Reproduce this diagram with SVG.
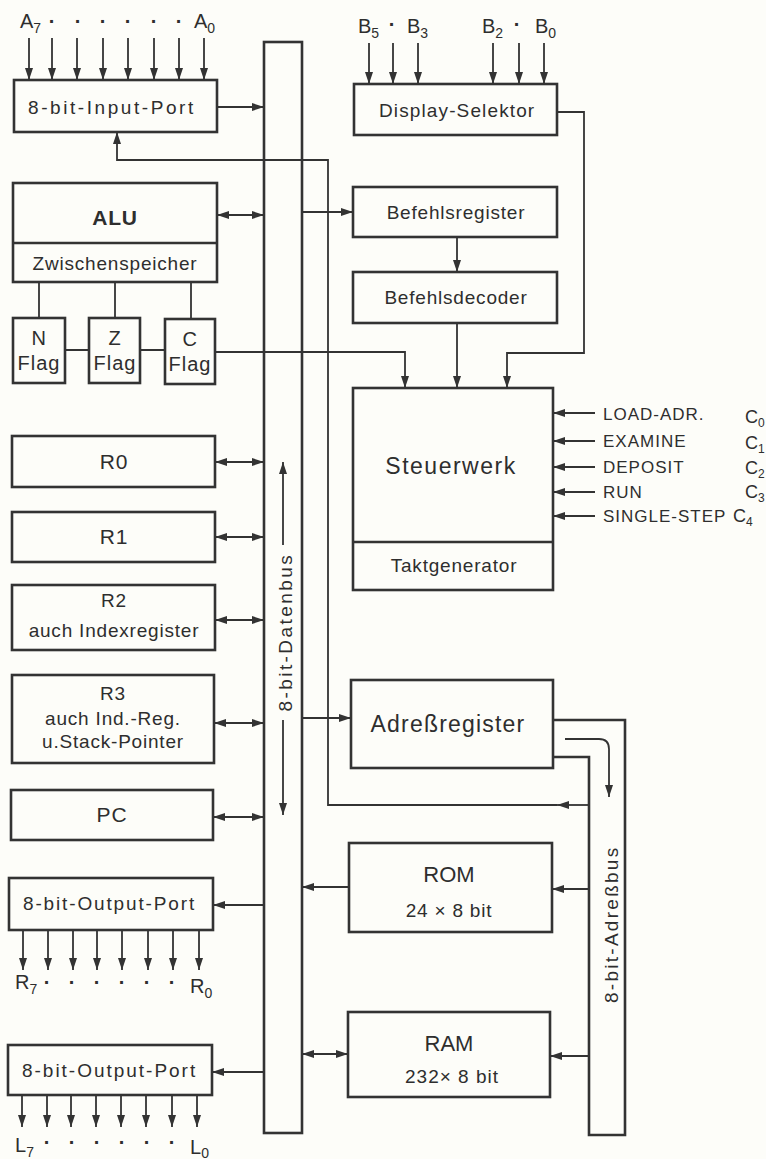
<svg xmlns="http://www.w3.org/2000/svg" width="766" height="1159" viewBox="0 0 766 1159">
<defs>
<marker id="ah" viewBox="0 0 12 8" refX="12" refY="4" markerWidth="12" markerHeight="8" markerUnits="userSpaceOnUse" orient="auto-start-reverse">
<path d="M0,0 L12,4 L0,8 z" fill="#333"/>
</marker>
<style>
.box{fill:none;stroke:#333;stroke-width:2.6}
.ln{fill:none;stroke:#333;stroke-width:1.8}
.arr{marker-end:url(#ah)}
.dbl{marker-start:url(#ah);marker-end:url(#ah)}
.t{font-family:"Liberation Sans",Arial,sans-serif;font-size:19px;letter-spacing:0.8px;fill:#2e2e2e;text-anchor:middle}
.big{font-size:21px}
.lg{font-size:23px;letter-spacing:1.5px}
.b{font-weight:bold}
.s{font-family:"Liberation Sans",Arial,sans-serif;font-size:20px;fill:#2e2e2e}
.dot{font-weight:bold;text-anchor:middle}
.sub{font-size:14px}
.c{font-family:"Liberation Sans",Arial,sans-serif;font-size:17px;letter-spacing:1px;fill:#2e2e2e}
.cc{font-family:"Liberation Sans",Arial,sans-serif;font-size:18px;fill:#2e2e2e}
.csub{font-size:12px}
.d{font-family:"Liberation Sans",Arial,sans-serif;font-size:22px;fill:#2e2e2e;text-anchor:middle}
</style>
</defs>
<rect width="766" height="1159" fill="#fdfdf9"/>

<g id="connectors">
<path class="ln arr" d="M29,38V80"/><path class="ln arr" d="M52,38V80"/><path class="ln arr" d="M77,38V80"/><path class="ln arr" d="M103,38V80"/><path class="ln arr" d="M128,38V80"/><path class="ln arr" d="M154,38V80"/><path class="ln arr" d="M179,38V80"/><path class="ln arr" d="M204,38V80"/>
<path class="ln arr" d="M369,43V84"/><path class="ln arr" d="M393,43V84"/><path class="ln arr" d="M418,43V84"/><path class="ln arr" d="M493,43V84"/><path class="ln arr" d="M519,43V84"/><path class="ln arr" d="M544,43V84"/>
<path class="ln arr" d="M217,107H264"/>
<path class="ln arr" d="M589,805H557"/>
<path class="ln arr" d="M557,805H328V160H117V132"/>
<path class="ln dbl" d="M217,215H264"/>
<path class="ln arr" d="M302,212H353"/>
<path class="ln arr" d="M457,237V272"/>
<path class="ln arr" d="M457,323V388"/>
<path class="ln arr" d="M557,112H584V353H507V388"/>
<path class="ln arr" d="M215,352H405V388"/>
<path class="ln" d="M39,282V318M115,282V318M191,282V319M65,350H89M140,350H165"/>
<path class="ln arr" d="M595,413H553"/><path class="ln arr" d="M595,441H553"/><path class="ln arr" d="M595,467H553"/><path class="ln arr" d="M595,492H553"/><path class="ln arr" d="M595,516H553"/>
<path class="ln dbl" d="M215,462H264"/>
<path class="ln dbl" d="M215,537H264"/>
<path class="ln dbl" d="M215,620H264"/>
<path class="ln dbl" d="M214,723H264"/>
<path class="ln dbl" d="M213,817H264"/>
<path class="ln arr" d="M302,718H351"/>
<path class="ln arr" d="M565,739H599Q609,739 609,749V797"/>
<path class="ln arr" d="M589,889H552"/>
<path class="ln arr" d="M349,887H302"/>
<path class="ln arr" d="M589,1056H550"/>
<path class="ln dbl" d="M302,1054H348"/>
<path class="ln arr" d="M264,905H213"/>
<path class="ln arr" d="M264,1072H212"/>
<path class="ln arr" d="M23,930V970"/><path class="ln arr" d="M48,930V970"/><path class="ln arr" d="M73,930V970"/><path class="ln arr" d="M97,930V970"/><path class="ln arr" d="M122,930V970"/><path class="ln arr" d="M148,930V970"/><path class="ln arr" d="M173,930V970"/><path class="ln arr" d="M199,930V970"/>
<path class="ln arr" d="M22,1095V1127"/><path class="ln arr" d="M47,1095V1127"/><path class="ln arr" d="M71,1095V1127"/><path class="ln arr" d="M96,1095V1127"/><path class="ln arr" d="M121,1095V1127"/><path class="ln arr" d="M146,1095V1127"/><path class="ln arr" d="M172,1095V1127"/><path class="ln arr" d="M197,1095V1127"/>
<path class="ln arr" d="M283,545V462"/>
<path class="ln arr" d="M283,720V815"/>
</g>

<g id="labels-A">
<text class="s" x="20" y="28">A<tspan class="sub" dy="5">7</tspan></text>
<text class="s" x="194" y="28">A<tspan class="sub" dy="5">0</tspan></text>
<text class="s dot" x="52" y="28">·</text><text class="s dot" x="78" y="28">·</text><text class="s dot" x="103" y="28">·</text><text class="s dot" x="128" y="28">·</text><text class="s dot" x="154" y="28">·</text><text class="s dot" x="179" y="28">·</text>
</g>
<g id="labels-B">
<text class="s" x="358" y="33">B<tspan class="sub" dy="5">5</tspan></text>
<text class="s dot" x="392" y="31">·</text>
<text class="s" x="407" y="33">B<tspan class="sub" dy="5">3</tspan></text>
<text class="s" x="482" y="33">B<tspan class="sub" dy="5">2</tspan></text>
<text class="s dot" x="517" y="31">·</text>
<text class="s" x="535" y="33">B<tspan class="sub" dy="5">0</tspan></text>
</g>

<g id="input-port"><rect class="box" x="14" y="80" width="203" height="52"/><text class="t" x="111" y="114" textLength="166" lengthAdjust="spacing">8-bit-Input-Port</text></g>
<g id="display-selektor"><rect class="box" x="354" y="84" width="203" height="51"/><text class="t" x="457" y="117" textLength="156" lengthAdjust="spacing">Display-Selektor</text></g>
<g id="data-bus"><rect class="box" x="264" y="42" width="38" height="1091"/><text class="t" transform="translate(292,633) rotate(-90)" x="0" y="0" textLength="157" lengthAdjust="spacing">8-bit-Datenbus</text></g>
<g id="alu"><rect class="box" x="13" y="183" width="204" height="99"/><path class="box" d="M13,243H217"/><text class="t big b" x="115" y="225">ALU</text><text class="t" x="115" y="270">Zwischenspeicher</text></g>
<g id="n-flag"><rect class="box" x="13" y="318" width="52" height="65"/><text class="t s" x="39" y="345" text-anchor="middle">N</text><text class="t s" x="39" y="370" style="letter-spacing:1px">Flag</text></g>
<g id="z-flag"><rect class="box" x="89" y="318" width="51" height="65"/><text class="t s" x="115" y="345" text-anchor="middle">Z</text><text class="t s" x="115" y="370" style="letter-spacing:1px">Flag</text></g>
<g id="c-flag"><rect class="box" x="165" y="319" width="50" height="65"/><text class="t s" x="190" y="346" text-anchor="middle">C</text><text class="t s" x="190" y="371" style="letter-spacing:1px">Flag</text></g>
<g id="befehlsregister"><rect class="box" x="353" y="187" width="204" height="50"/><text class="t" x="456" y="219">Befehlsregister</text></g>
<g id="befehlsdecoder"><rect class="box" x="353" y="272" width="204" height="51"/><text class="t" x="456" y="304">Befehlsdecoder</text></g>
<g id="steuerwerk"><rect class="box" x="353" y="388" width="200" height="202"/><path class="box" d="M353,542H553"/><text class="t lg" x="451" y="474">Steuerwerk</text><text class="t" x="454" y="572">Taktgenerator</text></g>
<g id="control-labels">
<text class="c" x="603" y="420">LOAD-ADR.</text>
<text class="c" x="603" y="447">EXAMINE</text>
<text class="c" x="603" y="473">DEPOSIT</text>
<text class="c" x="603" y="498">RUN</text>
<text class="c" x="603" y="522">SINGLE-STEP</text>
<text class="cc" x="745" y="423">C<tspan class="csub" dy="4">0</tspan></text>
<text class="cc" x="745" y="449">C<tspan class="csub" dy="4">1</tspan></text>
<text class="cc" x="745" y="474">C<tspan class="csub" dy="4">2</tspan></text>
<text class="cc" x="745" y="498">C<tspan class="csub" dy="4">3</tspan></text>
<text class="cc" x="733" y="522">C<tspan class="csub" dy="4">4</tspan></text>
</g>
<g id="r0"><rect class="box" x="12" y="436" width="203" height="51"/><text class="t big" x="114" y="469">R0</text></g>
<g id="r1"><rect class="box" x="12" y="512" width="203" height="50"/><text class="t big" x="114" y="544">R1</text></g>
<g id="r2"><rect class="box" x="12" y="585" width="203" height="65"/><text class="t" x="114" y="607">R2</text><text class="t" x="114" y="637">auch Indexregister</text></g>
<g id="r3"><rect class="box" x="12" y="675" width="202" height="88"/><text class="t" x="113" y="700">R3</text><text class="t" x="113" y="725">auch Ind.-Reg.</text><text class="t" x="113" y="748">u.Stack-Pointer</text></g>
<g id="pc"><rect class="box" x="11" y="790" width="202" height="50"/><text class="t big" x="112" y="822">PC</text></g>
<g id="output-port-1"><rect class="box" x="9" y="878" width="204" height="52"/><text class="t" x="109" y="910" textLength="172" lengthAdjust="spacing">8-bit-Output-Port</text></g>
<g id="labels-R">
<text class="s" x="15" y="989">R<tspan class="sub" dy="5">7</tspan></text>
<text class="s" x="190" y="993">R<tspan class="sub" dy="5">0</tspan></text>
<text class="s dot" x="47" y="989">·</text><text class="s dot" x="72" y="989">·</text><text class="s dot" x="97" y="989">·</text><text class="s dot" x="122" y="989">·</text><text class="s dot" x="147" y="989">·</text><text class="s dot" x="172" y="989">·</text>
</g>
<g id="output-port-2"><rect class="box" x="8" y="1045" width="204" height="50"/><text class="t" x="109" y="1077" textLength="174" lengthAdjust="spacing">8-bit-Output-Port</text></g>
<g id="labels-L">
<text class="s" x="15" y="1152">L<tspan class="sub" dy="5">7</tspan></text>
<text class="s" x="190" y="1154">L<tspan class="sub" dy="4">0</tspan></text>
<text class="s dot" x="47" y="1149">·</text><text class="s dot" x="72" y="1149">·</text><text class="s dot" x="97" y="1149">·</text><text class="s dot" x="122" y="1149">·</text><text class="s dot" x="147" y="1149">·</text><text class="s dot" x="172" y="1149">·</text>
</g>
<g id="adressregister"><rect class="box" x="351" y="680" width="202" height="88"/><text class="t lg" x="448" y="732" style="letter-spacing:1.2px">Adreßregister</text></g>
<g id="address-bus"><path class="box" d="M553,720H625V1135H589V757H553"/><text class="t" transform="translate(618,925) rotate(-90)" x="0" y="0" textLength="156" lengthAdjust="spacing">8-bit-Adreßbus</text></g>
<g id="rom"><rect class="box" x="349" y="843" width="203" height="89"/><text class="d" x="449" y="882">ROM</text><text class="t" x="449" y="917">24 × 8 bit</text></g>
<g id="ram"><rect class="box" x="348" y="1012" width="202" height="85"/><text class="d" x="449" y="1051">RAM</text><text class="t" x="452" y="1083" style="letter-spacing:1px">232× 8 bit</text></g>
</svg>
